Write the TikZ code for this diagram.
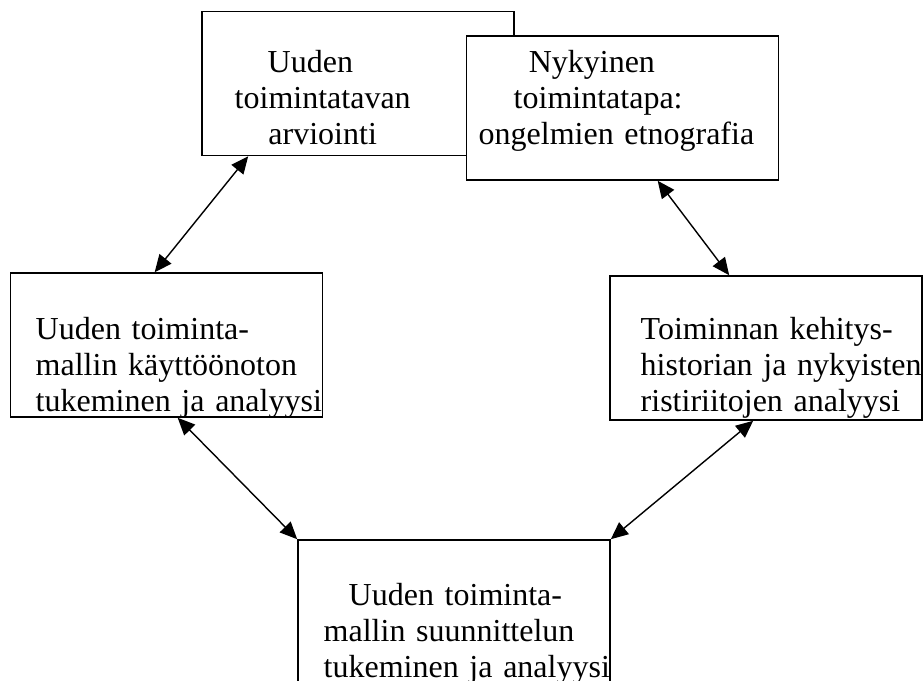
\documentclass[tikz,border=0pt]{standalone}
\usepackage{fontspec}
\setmainfont{Liberation Serif}
\usetikzlibrary{arrows.meta}

\begin{document}
\begin{tikzpicture}[x=0.025cm,y=-0.025cm,line width=1pt,<->,>={Triangle[length=0.43cm,width=0.38cm]}]
    \tikzstyle{box}=[rectangle,draw=black,fill=white,line width=1.1pt,minimum width=7.8cm,minimum height=3.6cm,inner sep=0pt]
    \tikzstyle{txt}=[anchor=base west,inner sep=0pt,text width=8cm,align=left,font=\fontsize{22.76pt}{25.6pt}\selectfont]
    \useasboundingbox (0,0) rectangle (923,681);

    \foreach \name/\x/\y in {arv/358/83.5, nyk/622.5/108, kay/166.5/345, his/766/348, suu/454/612}
            \node[box] (\name) at (\x,\y) {};

        \node[txt] (arv-t) at (234,73) {\hspace*{23.5pt}Uuden\\ toimintatavan\\ \hspace*{24pt}arviointi};
        \node[txt] (nyk-t) at (478,73) {\hspace*{35.6pt}Nykyinen\\ \hspace*{24.9pt}toimintatapa:\\ ongelmien etnografia};
        \node[txt] (kay-t) at (35,340) {Uuden toiminta-\\ mallin käyttöönoton\\ tukeminen ja analyysi};
        \node[txt] (his-t) at (640,340) {Toiminnan kehitys-\\ historian ja nykyisten\\ ristiriitojen analyysi};
        \node[txt] (suu-t) at (323,606) {\hspace*{17.8pt}Uuden toiminta-\\ mallin suunnittelun\\ tukeminen ja analyysi};

        \draw ([shift={(47,0)}]arv.south west) -- ([shift={(145,0)}]kay.north west);
        \draw ([shift={(192,0)}]nyk.south west) -- ([shift={(120,0)}]his.north west);
        \draw ([shift={(168,0)}]kay.south west) -- (suu.north west);
        \draw ([shift={(144,0)}]his.south west) -- (suu.north east);
\end{tikzpicture}
\end{document}
